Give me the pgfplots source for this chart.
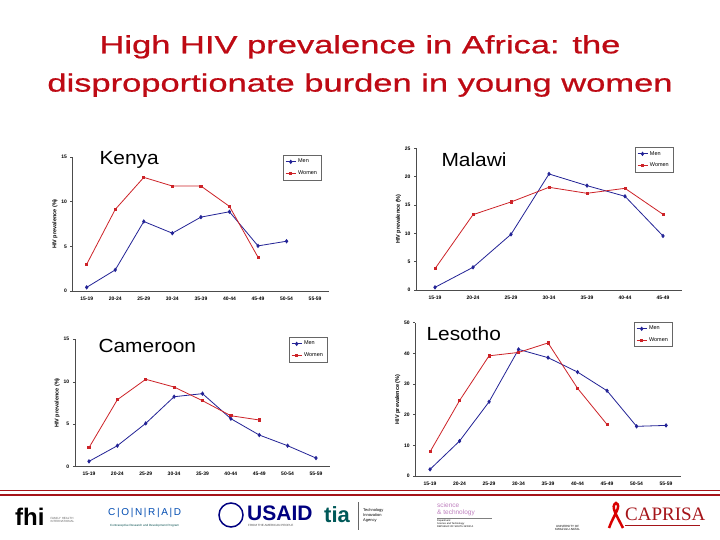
\documentclass[border=0pt]{standalone}
\usepackage{pgfplots}
\pgfplotsset{compat=1.18}
\usepackage{fontspec}
\setmainfont{Liberation Sans}
\newfontfamily\titlefont[FakeBold=0.6]{Liberation Sans}
\newfontfamily\seriffont{Liberation Serif}
\usepackage{graphicx}
\definecolor{men}{RGB}{35,35,150}
\definecolor{women}{RGB}{205,35,40}
\definecolor{titlered}{RGB}{190,10,20}
\definecolor{barred}{RGB}{165,20,25}

\pgfplotsset{
  hiv/.style={
    scale only axis,
    clip=false,
    axis x line*=bottom,
    axis y line*=left,
    axis line style={black!70, line width=0.5pt},
    xmin=-0.5, ymin=0,
    tick label style={font=\fontsize{5}{6}\selectfont\bfseries},
    /pgf/number format/assume math mode=true,
    ylabel={HIV prevalence (\%)},
    ylabel style={font=\fontsize{5.5}{6}\selectfont\bfseries, yshift=-3pt},
    xtick style={draw=none},
    ytick style={black!70, line width=0.4pt},
    major tick length=2pt,
    tick align=outside,
    every axis plot/.append style={line width=0.8pt},
    legend style={font=\fontsize{5.5}{6}\selectfont, draw=black!60, line width=0.4pt,
      inner xsep=2pt, inner ysep=2pt, row sep=2pt, legend cell align=left, anchor=north west},
    legend image code/.code={\draw[mark repeat=2, mark phase=2, #1] plot coordinates {(0pt,0pt)(5pt,0pt)(10pt,0pt)};},
  },
  menplot/.style={color=men, mark=diamond*, mark size=1.6pt},
  womenplot/.style={color=women, mark=square*, mark size=1.1pt},
}

\begin{document}
\begin{tikzpicture}
\useasboundingbox (0pt,0pt) rectangle (720pt,540pt);
\fill[white] (0pt,0pt) rectangle (720pt,540pt);

% title
\node[color=titlered, align=center] at (360pt,474pt)
  {\scalebox{1.38}[1]{\titlefont\fontsize{25}{39}\selectfont High HIV prevalence in Africa: the}\\[14pt]
   \scalebox{1.38}[1]{\titlefont\fontsize{25}{39}\selectfont disproportionate burden in young women}};

% Kenya
\begin{axis}[hiv, at={(72.4pt,249pt)}, anchor=south west, width=257pt, height=134pt,
  xmax=8.5, ymax=15, ytick={0,5,10,15},
  xtick={0,...,8},
  xticklabels={15-19,20-24,25-29,30-34,35-39,40-44,45-49,50-54,55-59},
  legend style={at={(0.82,1.015)}}]
\addplot[menplot] coordinates {(0,0.41)(1,2.36)(2,7.78)(3,6.47)(4,8.27)(5,8.87)(6,5.05)(7,5.57)};
\addlegendentry{Men}
\addplot[womenplot] coordinates {(0,2.99)(1,9.13)(2,12.72)(3,11.75)(4,11.75)(5,9.47)(6,3.78)};
\addlegendentry{Women}
\end{axis}
\node[anchor=west, font=\fontsize{19}{20}\selectfont] at (96pt,380pt) {\scalebox{1.1}[1]{Kenya}};

% Malawi
\begin{axis}[hiv, at={(416pt,250pt)}, anchor=south west, width=266pt, height=141.7pt,
  xmax=6.5, ymax=25, ytick={0,5,...,25},
  xtick={0,...,6},
  xticklabels={15-19,20-24,25-29,30-34,35-39,40-44,45-49},
  legend style={at={(0.823,1.009)}}]
\addplot[menplot] coordinates {(0,0.47)(1,4.0)(2,9.82)(3,20.47)(4,18.41)(5,16.53)(6,9.53)};
\addlegendentry{Men}
\addplot[womenplot] coordinates {(0,3.76)(1,13.29)(2,15.53)(3,18.12)(4,17.06)(5,17.94)(6,13.35)};
\addlegendentry{Women}
\end{axis}
\node[anchor=west, font=\fontsize{19}{20}\selectfont] at (438pt,380pt) {\scalebox{1.1}[1]{Malawi}};

% Cameroon
\begin{axis}[hiv, at={(74.8pt,73.3pt)}, anchor=south west, width=255.4pt, height=127.4pt,
  xmax=8.5, ymax=15, ytick={0,5,10,15},
  xtick={0,...,8},
  xticklabels={15-19,20-24,25-29,30-34,35-39,40-44,45-49,50-54,55-59},
  legend style={at={(0.839,1.018)}}]
\addplot[menplot] coordinates {(0,0.63)(1,2.47)(2,5.1)(3,8.24)(4,8.6)(5,5.65)(6,3.73)(7,2.47)(8,1.02)};
\addlegendentry{Men}
\addplot[womenplot] coordinates {(0,2.24)(1,7.89)(2,10.29)(3,9.38)(4,7.77)(5,6.0)(6,5.5)};
\addlegendentry{Women}
\end{axis}
\node[anchor=west, font=\fontsize{19}{20}\selectfont] at (95pt,194pt) {\scalebox{1.1}[1]{Cameroon}};

% Lesotho
\begin{axis}[hiv, at={(415.3pt,64pt)}, anchor=south west, width=265.5pt, height=153.3pt,
  xmax=8.5, ymax=50, ytick={0,10,...,50},
  xtick={0,...,8},
  xticklabels={15-19,20-24,25-29,30-34,35-39,40-44,45-49,50-54,55-59},
  legend style={at={(0.824,1.005)}}]
\addplot[menplot] coordinates {(0,2.17)(1,11.4)(2,24.2)(3,41.3)(4,38.6)(5,33.9)(6,27.8)(7,16.2)(8,16.5)};
\addlegendentry{Men}
\addplot[womenplot] coordinates {(0,7.9)(1,24.6)(2,39.2)(3,40.3)(4,43.4)(5,28.6)(6,16.8)};
\addlegendentry{Women}
\end{axis}
\node[anchor=west, font=\fontsize{19}{20}\selectfont] at (423pt,206pt) {\scalebox{1.1}[1]{Lesotho}};

% bottom rule
\draw[barred, line width=0.8pt] (0pt,50pt) -- (720pt,50pt);
\draw[barred, line width=2pt] (0pt,44.5pt) -- (720pt,44.5pt);

% logos (text approximations)
\node[anchor=west, font=\fontsize{24}{24}\selectfont\bfseries, inner sep=0pt] at (15pt,23pt) {fhi};
\node[anchor=west, font=\fontsize{3}{3.5}\selectfont, align=left, color=black!60] at (47pt,20pt) {FAMILY HEALTH\\INTERNATIONAL};
\node[anchor=west, font=\fontsize{10}{10}\selectfont, color=teal!60!blue, inner sep=0pt] at (108pt,27pt) {C\,|\,O\,|\,N\,|\,R\,|\,A\,|\,D};
\node[anchor=west, font=\fontsize{3}{3}\selectfont, color=teal!60!black, inner sep=0pt] at (110pt,14pt) {Contraceptive Research and Development Program};
\draw[blue!50!black, line width=1.5pt] (231pt,25pt) circle (12pt);
\node[anchor=west, font=\fontsize{21}{21}\selectfont\bfseries, color=blue!50!black, inner sep=0pt] at (247pt,27pt) {USAID};
\node[anchor=west, font=\fontsize{3}{3}\selectfont, color=black!70, inner sep=0pt] at (248pt,15pt) {FROM THE AMERICAN PEOPLE};
\node[anchor=west, font=\fontsize{22}{22}\selectfont\bfseries, color=teal!70!black, inner sep=0pt] at (324pt,25pt) {tia};
\draw[black!60, line width=0.5pt] (358pt,10pt) -- (358pt,38pt);
\node[anchor=west, font=\fontsize{4}{5}\selectfont, align=left, inner sep=0pt] at (363pt,25pt) {Technology\\Innovation\\Agency};
\node[anchor=west, font=\fontsize{6.5}{7}\selectfont, align=left, color=violet!50, inner sep=0pt] at (437pt,31pt) {science\\\& technology};
\draw[black!50, line width=0.3pt] (437pt,22pt) -- (492pt,22pt);
\node[anchor=west, font=\fontsize{2.5}{3}\selectfont, align=left, inner sep=0pt] at (437pt,16pt) {Department:\\Science and Technology\\REPUBLIC OF SOUTH AFRICA};
\node[anchor=west, font=\fontsize{3}{3}\selectfont, align=center, inner sep=0pt] at (555pt,12pt) {UNIVERSITY OF\\KWAZULU-NATAL};
\node[anchor=west, font=\seriffont\fontsize{19}{19}\selectfont, color=barred, inner sep=0pt] at (625pt,26pt) {CAPRISA};
\draw[barred, line width=0.4pt] (625pt,15pt) -- (700pt,15pt);
\draw[red!85!black, line width=2.5pt] (609pt,12pt) .. controls (614pt,26pt) and (622pt,34pt) .. (616pt,37pt) .. controls (610pt,34pt) and (617pt,24pt) .. (623pt,12pt);
\end{tikzpicture}
\end{document}
